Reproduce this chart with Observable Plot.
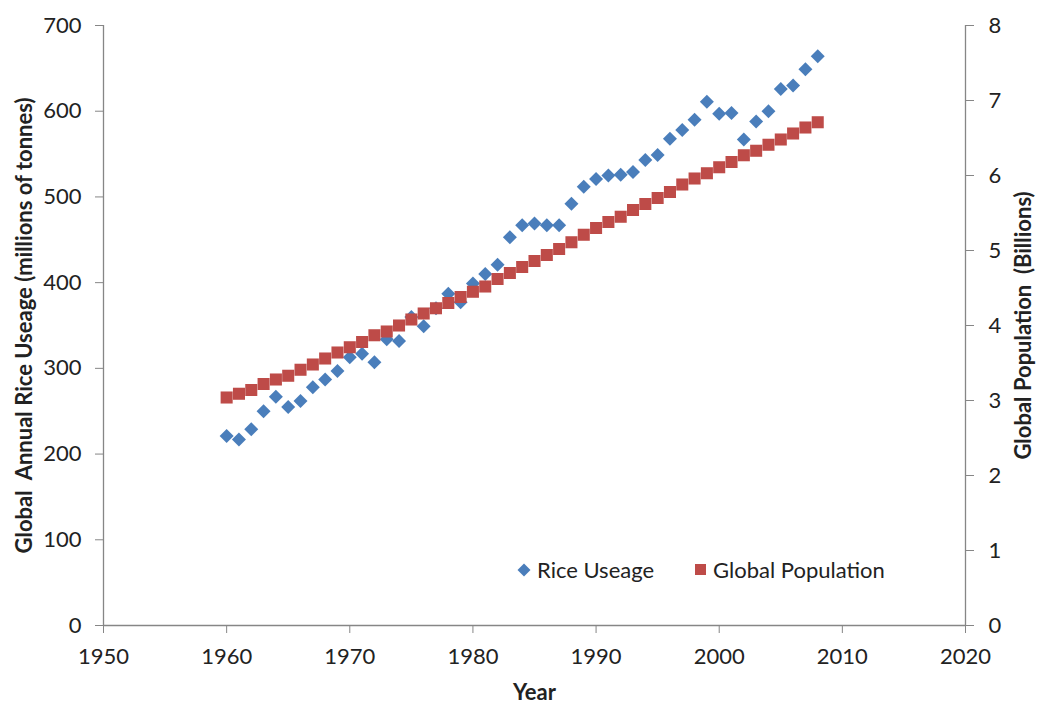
<!DOCTYPE html>
<html>
<head>
<meta charset="utf-8">
<script src="https://cdn.jsdelivr.net/npm/d3@7"></script>
<script src="https://cdn.jsdelivr.net/npm/@observablehq/plot@0.6"></script>
<style>
  body { margin: 0; background: #fff; }
  #chart { position: relative; width: 1037px; height: 704px; }
  .legend {
    position: absolute; left: 517px; top: 556px;
    display: flex; align-items: center;
    font-family: Lato, "Noto Sans", sans-serif; font-size: 22px; color: #222;
  }
  .legend .item { display: flex; align-items: center; }
  .legend svg { margin-right: 6px; }
  .legend .item + .item { margin-left: 40px; }
</style>
</head>
<body>
<div id="chart"></div>
<script>
// Annual global rice use and world population, 1960–2008
const years = [
  1960, 1961, 1962, 1963, 1964, 1965, 1966, 1967, 1968, 1969,
  1970, 1971, 1972, 1973, 1974, 1975, 1976, 1977, 1978, 1979,
  1980, 1981, 1982, 1983, 1984, 1985, 1986, 1987, 1988, 1989,
  1990, 1991, 1992, 1993, 1994, 1995, 1996, 1997, 1998, 1999,
  2000, 2001, 2002, 2003, 2004, 2005, 2006, 2007, 2008
];
// millions of tonnes
const riceUsage = [
  221, 217, 229, 250, 267, 255, 262, 278, 287, 297,
  313, 317, 307, 334, 332, 360, 349, 370, 387, 377,
  399, 410, 421, 453, 467, 469, 467, 467, 492, 512,
  521, 525, 526, 529, 543, 549, 568, 578, 590, 611,
  597, 598, 567, 588, 600, 626, 630, 649, 664
];
// billions of people
const population = [
  3.04, 3.09, 3.14, 3.22, 3.28, 3.33, 3.41, 3.48, 3.56, 3.64,
  3.71, 3.78, 3.87, 3.92, 4.00, 4.08, 4.16, 4.23, 4.30, 4.38,
  4.45, 4.52, 4.62, 4.70, 4.78, 4.86, 4.94, 5.02, 5.11, 5.21,
  5.30, 5.38, 5.45, 5.54, 5.62, 5.70, 5.78, 5.88, 5.96, 6.03,
  6.11, 6.18, 6.27, 6.33, 6.41, 6.48, 6.56, 6.64, 6.71
];

const yearTicks = [1950, 1960, 1970, 1980, 1990, 2000, 2010, 2020];
const riceTicks = [0, 100, 200, 300, 400, 500, 600, 700];
const popTicks = [0, 1, 2, 3, 4, 5, 6, 7, 8];

const riceMax = 700;
const popMax = 8;
// population is plotted on the rice scale; the right axis reads it back in billions
const popToRice = riceMax / popMax;

const riceColor = "#4A7EBB";
const popColor = "#BE4B48";
const axisColor = "#868686";
const textColor = "#222";
const font = "Lato, 'Noto Sans', sans-serif";

const rows = years.map((year, i) => ({
  year,
  rice: riceUsage[i],
  pop: population[i] * popToRice
}));

const chart = Plot.plot({
  width: 1037,
  height: 704,
  marginLeft: 103,
  marginRight: 72,
  marginTop: 25,
  marginBottom: 79,
  x: { domain: [1950, 2020] },
  y: { domain: [0, riceMax] },
  style: { fontFamily: font, fontSize: "22px", color: textColor, background: "#fff" },
  marks: [
    // axis lines
    Plot.ruleY([0], { stroke: axisColor, strokeWidth: 1.3 }),
    Plot.ruleX([1950], { stroke: axisColor, strokeWidth: 1.3 }),
    Plot.ruleX([2020], { stroke: axisColor, strokeWidth: 1.3 }),
    Plot.axisX({
      ticks: yearTicks, tickFormat: d => String(d), tickSize: 8, tickPadding: 15,
      stroke: axisColor, fill: textColor, label: null
    }),
    Plot.axisY({
      anchor: "left", ticks: riceTicks, tickFormat: d => String(d), tickSize: 8, tickPadding: 14,
      stroke: axisColor, fill: textColor, label: null
    }),
    Plot.axisY({
      anchor: "right", ticks: popTicks.map(v => v * popToRice),
      tickFormat: d => String(Math.round(d / popToRice)), tickSize: 8, tickPadding: 15,
      stroke: axisColor, fill: textColor, label: null
    }),
    // axis titles
    Plot.text(["Year"], {
      frameAnchor: "bottom", dy: 74, fontWeight: "bold", fontSize: 22, fill: textColor
    }),
    Plot.text(["Global  Annual Rice Useage (millions of tonnes)"], {
      frameAnchor: "left", textAnchor: "middle", dx: -79, rotate: -90,
      fontWeight: "bold", fontSize: 22, fill: textColor
    }),
    Plot.text(["Global Population  (Billions)"], {
      frameAnchor: "right", textAnchor: "middle", dx: 58, rotate: -90,
      fontWeight: "bold", fontSize: 22, fill: textColor
    }),
    // series
    Plot.dot(rows, {
      x: "year", y: "rice", symbol: "diamond2", r: 6.3,
      fill: riceColor, stroke: "none"
    }),
    Plot.dot(rows, {
      x: "year", y: "pop", symbol: "square", r: 6.8,
      fill: popColor, stroke: "none"
    })
  ]
});

const root = document.getElementById("chart");
root.append(chart);

// legend drawn over the lower part of the plot area
const legend = document.createElement("div");
legend.className = "legend";
legend.innerHTML = `
  <div class="item">
    <svg width="14" height="14" viewBox="-7 -7 14 14"><path d="M0,-6.5L6.5,0L0,6.5L-6.5,0Z" fill="${riceColor}"/></svg>
    <span>Rice Useage</span>
  </div>
  <div class="item">
    <svg width="13" height="13" viewBox="-6.5 -6.5 13 13"><rect x="-5.5" y="-5.5" width="11" height="11" fill="${popColor}"/></svg>
    <span>Global Population</span>
  </div>`;
root.append(legend);
</script>
</body>
</html>
